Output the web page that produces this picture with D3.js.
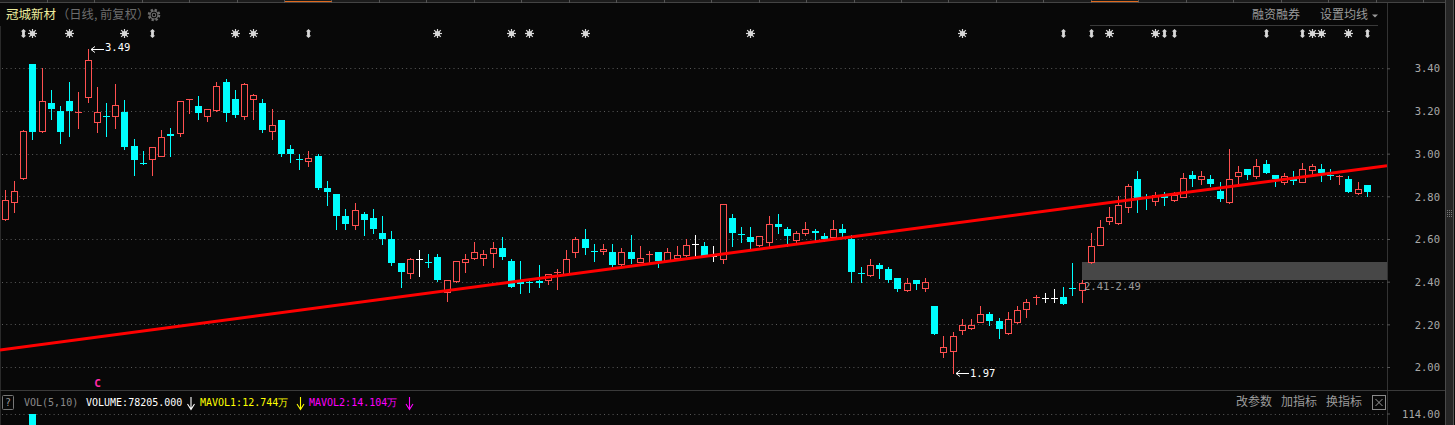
<!DOCTYPE html>
<html><head><meta charset="utf-8">
<script src="https://cdn.jsdelivr.net/npm/d3@7"></script>
<style>body{margin:0;background:#080808;overflow:hidden}svg{display:block}</style>
</head><body><svg id="c" width="1455" height="425"></svg>
<script>
// ---------- data ----------
const opens = [2.694,2.774,2.886,3.419,3.106,3.239,3.199,3.249,3.188,3.267,
 3.150,3.178,3.178,3.197,3.038,2.958,2.975,2.991,3.090,3.097,
 3.254,3.222,3.177,3.205,3.338,3.258,3.178,3.258,3.239,3.106,
 3.160,3.021,2.977,2.966,2.988,2.838,2.810,2.707,2.666,2.716,
 2.697,2.627,2.599,2.487,2.441,2.504,2.497,2.515,2.351,2.404,
 2.493,2.511,2.511,2.535,2.557,2.496,2.407,2.405,2.401,2.407,
 2.441,2.435,2.537,2.598,2.548,2.544,2.538,2.483,2.538,2.493,
 2.527,2.538,2.495,2.511,2.527,2.576,2.566,2.520,2.504,2.697,
 2.626,2.608,2.572,2.584,2.669,2.645,2.596,2.626,2.637,2.616,
 2.607,2.646,2.600,2.443,2.432,2.477,2.459,2.416,2.360,2.407,
 2.371,2.285,2.071,2.073,2.174,2.184,2.212,2.248,2.215,2.160,
 2.212,2.273,2.324,2.325,2.325,2.327,2.373,2.362,2.493,2.572,
 2.685,2.675,2.748,2.880,2.799,2.776,2.808,2.783,2.799,2.899,
 2.879,2.879,2.827,2.774,2.897,2.926,2.897,2.950,2.899,2.865,
 2.888,2.869,2.924,2.926,2.902,2.888,2.879,2.816,2.855];
const highs = [2.829,2.871,3.110,3.420,3.400,3.300,3.222,3.338,3.291,3.490,
 3.311,3.239,3.328,3.250,3.067,3.011,3.029,3.110,3.119,3.249,
 3.258,3.269,3.210,3.338,3.349,3.300,3.330,3.280,3.258,3.207,
 3.160,3.039,2.997,3.011,2.997,2.871,2.810,2.740,2.768,2.726,
 2.740,2.707,2.637,2.487,2.513,2.548,2.529,2.529,2.407,2.495,
 2.529,2.585,2.548,2.585,2.608,2.505,2.496,2.410,2.477,2.434,
 2.459,2.548,2.607,2.646,2.576,2.576,2.575,2.557,2.618,2.566,
 2.546,2.538,2.557,2.566,2.598,2.618,2.585,2.566,2.766,2.716,
 2.655,2.655,2.616,2.707,2.716,2.655,2.637,2.679,2.646,2.627,
 2.688,2.669,2.619,2.469,2.505,2.487,2.468,2.416,2.415,2.407,
 2.415,2.285,2.145,2.162,2.224,2.224,2.285,2.257,2.232,2.257,
 2.285,2.318,2.337,2.346,2.365,2.374,2.487,2.406,2.626,2.688,
 2.749,2.800,2.857,2.918,2.810,2.818,2.818,2.818,2.908,2.918,
 2.918,2.899,2.869,3.021,2.941,2.926,2.977,2.969,2.899,2.907,
 2.918,2.958,2.950,2.950,2.926,2.900,2.897,2.869,2.855];
const lows = [2.689,2.726,2.881,3.069,3.100,3.161,3.050,3.083,3.120,3.242,
 3.102,3.083,3.120,3.022,2.900,2.952,2.900,2.988,2.988,3.081,
 3.189,3.161,3.153,3.202,3.153,3.172,3.163,3.163,3.102,3.069,
 2.988,2.961,2.928,2.941,2.832,2.760,2.646,2.647,2.647,2.618,
 2.629,2.577,2.477,2.376,2.418,2.427,2.469,2.405,2.309,2.400,
 2.446,2.507,2.477,2.469,2.507,2.376,2.349,2.350,2.376,2.388,
 2.366,2.430,2.516,2.530,2.496,2.530,2.466,2.479,2.488,2.490,
 2.487,2.469,2.495,2.501,2.520,2.516,2.520,2.496,2.488,2.568,
 2.586,2.557,2.569,2.569,2.629,2.568,2.585,2.620,2.596,2.590,
 2.607,2.608,2.399,2.399,2.427,2.418,2.399,2.355,2.355,2.365,
 2.357,2.154,2.048,1.970,2.156,2.179,2.210,2.198,2.137,2.156,
 2.207,2.235,2.296,2.304,2.305,2.296,2.338,2.305,2.487,2.570,
 2.671,2.671,2.727,2.727,2.741,2.760,2.760,2.780,2.795,2.849,
 2.860,2.849,2.778,2.771,2.860,2.881,2.885,2.910,2.849,2.860,
 2.860,2.866,2.897,2.872,2.881,2.860,2.820,2.811,2.802];
const closes = [2.785,2.827,3.108,3.102,3.249,3.208,3.102,3.199,3.197,3.441,
 3.197,3.175,3.230,3.031,2.970,2.955,3.029,3.080,3.082,3.249,
 3.258,3.189,3.207,3.319,3.191,3.181,3.328,3.277,3.111,3.136,
 2.999,2.999,2.973,2.978,2.839,2.821,2.708,2.671,2.738,2.688,
 2.646,2.599,2.487,2.446,2.504,2.504,2.492,2.408,2.407,2.495,
 2.505,2.537,2.529,2.557,2.516,2.376,2.388,2.398,2.392,2.434,
 2.445,2.504,2.598,2.558,2.544,2.555,2.479,2.537,2.505,2.513,
 2.531,2.497,2.537,2.527,2.574,2.576,2.521,2.520,2.766,2.629,
 2.623,2.585,2.616,2.668,2.655,2.612,2.626,2.645,2.629,2.599,
 2.646,2.627,2.446,2.439,2.476,2.460,2.407,2.365,2.396,2.388,
 2.398,2.154,2.092,2.143,2.195,2.195,2.248,2.216,2.177,2.223,
 2.265,2.303,2.328,2.325,2.325,2.296,2.369,2.396,2.566,2.655,
 2.705,2.758,2.847,2.791,2.795,2.808,2.790,2.804,2.888,2.881,
 2.897,2.858,2.788,2.879,2.916,2.900,2.940,2.910,2.880,2.897,
 2.874,2.926,2.941,2.910,2.894,2.897,2.821,2.835,2.821];

const priceTicks = [2.00,2.20,2.40,2.60,2.80,3.00,3.20,3.40];
const volTicks = [114.00];
const volIdx = [3];
const volVals = [114];

const signalIdx  = [2,3,7,13,16,25,27,33,47,55,57,63,81,104,115,118,120,125,126,127,137,141,142,143,146,148];
const signalType = ["B","S","S","S","B","S","S","B","S","S","S","S","S","S","B","B","S","S","B","B","B","B","S","S","S","B"];

const trendIdx = [-0.58, 150.14];
const trendPrice = [2.080, 2.943];

const gapZone = [2.41, 2.49];
const gapStartIdx = 117;
const gapLabel = "2.41-2.49";

const highMarkIdx = 9, highMarkVal = 3.49;
const lowMarkIdx = 103, lowMarkVal = 1.97;
const cMarkIdx = 10;

// ---------- layout ----------
const W = 1455, H = 425, PR = 1387;
const MONO = "'DejaVu Sans Mono', 'Liberation Mono', monospace";
const CJK = "'Noto Sans CJK SC', 'Noto Sans', sans-serif";
const RED = "#ff5050", CYAN = "#00ffff", WHITE = "#ffffff";

const svg = d3.select("#c");
svg.append("rect").attr("width", W).attr("height", H).attr("fill", "#080808");

const x = d3.scaleLinear().domain([0, 148]).range([5.3, 1367.3]);
const y = d3.scaleLinear().domain([2.0, 3.4]).range([367, 68.3]);
const yv = d3.scaleLinear().domain([0, 114]).range([560, 413.5]);

const defs = svg.append("defs");
defs.append("clipPath").attr("id", "plot").append("rect")
  .attr("x", 0).attr("y", 26).attr("width", PR).attr("height", 364);
defs.append("clipPath").attr("id", "vplot").append("rect")
  .attr("x", 0).attr("y", 392).attr("width", PR).attr("height", 40);

// top tab strip
svg.append("rect").attr("x", 0).attr("y", 0).attr("width", 1445).attr("height", 2).attr("fill", "#1c1c1c");
svg.append("line").attr("x1", 0).attr("x2", 1445).attr("y1", 2.5).attr("y2", 2.5).attr("stroke", "#444");
d3.range(30).forEach(k => {
  const xx = Math.round(46.7 + k * 47.46) + 0.5;
  svg.append("line").attr("x1", xx).attr("x2", xx).attr("y1", 0).attr("y2", 3).attr("stroke", "#555");
});
[[285, 331.7], [1091, 1138.3]].forEach(([a, b]) => {
  svg.append("line").attr("x1", a).attr("x2", b).attr("y1", 1.5).attr("y2", 1.5).attr("stroke", "#e06a1e").attr("stroke-width", 1.2);
});

// title
svg.append("text").attr("x", 6).attr("y", 15.5).attr("dominant-baseline", "middle")
  .attr("font-family", CJK).attr("font-size", 12.5).attr("fill", "#ecec9c").text("冠城新材");
svg.append("text").attr("x", 57).attr("y", 15.5).attr("dominant-baseline", "middle")
  .attr("font-family", CJK).attr("font-size", 12.3).attr("fill", "#6c6c6c").text("（日线, 前复权）");
const gear = svg.append("g").attr("transform", "translate(154,15)");
gear.append("circle").attr("r", 5).attr("fill", "none").attr("stroke", "#6c6c6c").attr("stroke-width", 2.6).attr("stroke-dasharray", "2.2,1.73");
gear.append("circle").attr("r", 4).attr("fill", "none").attr("stroke", "#6c6c6c").attr("stroke-width", 1.2);
gear.append("circle").attr("r", 1.8).attr("fill", "none").attr("stroke", "#6c6c6c").attr("stroke-width", 1.1);

svg.append("text").attr("x", 1252).attr("y", 15.5).attr("dominant-baseline", "middle")
  .attr("font-family", CJK).attr("font-size", 12).attr("fill", "#9a9a9a").text("融资融券");
svg.append("text").attr("x", 1320).attr("y", 15.5).attr("dominant-baseline", "middle")
  .attr("font-family", CJK).attr("font-size", 12).attr("fill", "#9a9a9a").text("设置均线");
svg.append("path").attr("d", "M1372,14.5 L1378,14.5 L1375,17.5 Z").attr("fill", "#9a9a9a");
svg.append("line").attr("x1", 1090).attr("x2", 1378).attr("y1", 25.5).attr("y2", 25.5).attr("stroke", "#3a3a3a");

// frame lines
svg.append("line").attr("x1", PR + 0.5).attr("x2", PR + 0.5).attr("y1", 3).attr("y2", H).attr("stroke", "#333");
svg.append("line").attr("x1", 0.5).attr("x2", 0.5).attr("y1", 26).attr("y2", H).attr("stroke", "#2a2a2a");
svg.append("line").attr("x1", 0).attr("x2", 1445).attr("y1", 390.5).attr("y2", 390.5).attr("stroke", "#3a3a3a");
svg.append("rect").attr("x", 1445).attr("y", 0).attr("width", 8).attr("height", H).attr("fill", "#262626");
svg.append("line").attr("x1", 1445.5).attr("x2", 1445.5).attr("y1", 0).attr("y2", H).attr("stroke", "#4a4a4a");
svg.append("line").attr("x1", 1453.5).attr("x2", 1453.5).attr("y1", 0).attr("y2", H).attr("stroke", "#555");
[-3, -1, 1, 3].forEach(dy => {
  svg.append("line").attr("x1", 1447).attr("x2", 1452).attr("y1", 213.5 + dy).attr("y2", 213.5 + dy)
    .attr("stroke", "#777").attr("stroke-dasharray", "1,1");
});

// grid
svg.append("g").selectAll("line").data(priceTicks).join("line")
  .attr("x1", 2).attr("x2", PR - 2)
  .attr("y1", d => Math.round(y(d)) + 0.5).attr("y2", d => Math.round(y(d)) + 0.5)
  .attr("stroke", "#5a5a5a").attr("stroke-dasharray", "1,3.3");
svg.append("g").selectAll("line").data(volTicks).join("line")
  .attr("x1", 2).attr("x2", PR - 2)
  .attr("y1", d => Math.round(yv(d)) + 0.5).attr("y2", d => Math.round(yv(d)) + 0.5)
  .attr("stroke", "#5a5a5a").attr("stroke-dasharray", "1,3.3");

// axes
function styleAxis(g) {
  g.select(".domain").remove();
  g.selectAll(".tick line").attr("stroke", "#555");
  g.selectAll(".tick text").attr("fill", "#a8a8a8").attr("font-family", MONO).attr("font-size", 10.5)
    .attr("text-anchor", "end").attr("x", 53).attr("dy", "0.35em");
}
svg.append("g").attr("transform", `translate(${PR},0)`)
  .call(d3.axisRight(y).tickValues(priceTicks).tickFormat(d3.format(".2f")).tickSize(3))
  .call(styleAxis);
svg.append("g").attr("transform", `translate(${PR},0)`)
  .call(d3.axisRight(yv).tickValues(volTicks).tickFormat(d3.format(".2f")).tickSize(3))
  .call(styleAxis);

// main plot
const plot = svg.append("g").attr("clip-path", "url(#plot)");

// gap zone
plot.append("rect")
  .attr("x", Math.floor(x(gapStartIdx)))
  .attr("y", Math.round(y(gapZone[1])))
  .attr("width", PR - Math.floor(x(gapStartIdx)))
  .attr("height", Math.round(y(gapZone[0])) - Math.round(y(gapZone[1])))
  .attr("fill", "#474747");

// candles
const data = opens.map((o, i) => ({ i, o, h: highs[i], l: lows[i], c: closes[i] }));
const cg = plot.append("g");
data.forEach(d => {
  const cx = Math.floor(x(d.i)) + 0.5;
  const yo = y(d.o), yc = y(d.c), yh = Math.round(y(d.h)), yl = Math.round(y(d.l));
  const top = Math.min(yo, yc), bot = Math.max(yo, yc);
  if (d.c > d.o && bot - top >= 2) {
    const t = Math.round(top) + 0.5, b = Math.round(bot) + 0.5;
    if (yh < t) cg.append("line").attr("x1", cx).attr("x2", cx).attr("y1", yh).attr("y2", t).attr("stroke", RED);
    if (yl > b) cg.append("line").attr("x1", cx).attr("x2", cx).attr("y1", b).attr("y2", yl + 1).attr("stroke", RED);
    cg.append("rect").attr("x", cx - 3).attr("y", t).attr("width", 6).attr("height", b - t)
      .attr("fill", "#080808").attr("stroke", RED).attr("stroke-width", 1);
  } else if (d.c < d.o && bot - top >= 1.5) {
    cg.append("line").attr("x1", cx).attr("x2", cx).attr("y1", yh).attr("y2", yl + 1).attr("stroke", CYAN);
    const t = Math.round(top), b = Math.round(bot);
    cg.append("rect").attr("x", cx - 3.5).attr("y", t).attr("width", 7).attr("height", Math.max(1, b - t))
      .attr("fill", CYAN);
  } else {
    const col = d.c > d.o ? RED : (d.c < d.o ? CYAN : WHITE);
    const yy = Math.round(yc) + 0.5;
    cg.append("line").attr("x1", cx).attr("x2", cx).attr("y1", yh).attr("y2", yl + 1).attr("stroke", col);
    cg.append("line").attr("x1", cx - 3.5).attr("x2", cx + 3.5).attr("y1", yy).attr("y2", yy).attr("stroke", col);
  }
});

// trend line
plot.append("line")
  .attr("x1", x(trendIdx[0])).attr("y1", y(trendPrice[0]))
  .attr("x2", x(trendIdx[1])).attr("y2", y(trendPrice[1]))
  .attr("stroke", "#ff0000").attr("stroke-width", 3);

// gap label
plot.append("text").attr("x", Math.floor(x(gapStartIdx)) + 2).attr("y", y(gapZone[0]) + 7.5)
  .attr("dominant-baseline", "middle").attr("font-family", MONO).attr("font-size", 10.5)
  .attr("fill", "#9a9a9a").text(gapLabel);

// high / low markers
function marker(idx, val, dyText) {
  const tip = Math.floor(x(idx)) + 3;
  const yy = Math.round(y(val)) + 0.5;
  plot.append("path").attr("d", `M${tip},${yy} L${tip + 13},${yy} M${tip + 4},${yy - 3} L${tip},${yy} L${tip + 4},${yy + 3}`)
    .attr("stroke", WHITE).attr("fill", "none");
  plot.append("text").attr("x", tip + 14).attr("y", yy + dyText).attr("dominant-baseline", "middle")
    .attr("font-family", MONO).attr("font-size", 10.5).attr("fill", WHITE).text(d3.format(".2f")(val));
}
marker(highMarkIdx, highMarkVal, -1.5);
marker(lowMarkIdx, lowMarkVal, 0.5);

// signal marks
const sg = svg.append("g");
signalIdx.forEach((idx, k) => {
  const cx = Math.floor(x(idx)) + 0.5, cy = 33.5;
  const g = sg.append("g").attr("transform", `translate(${cx},${cy})`);
  if (signalType[k] === "S") {
    g.append("circle").attr("r", 2.6).attr("fill", "#d8d8d8");
    [[-4.5, 0, 4.5, 0], [0, -4.5, 0, 4.5], [-3.3, -3.3, 3.3, 3.3], [-3.3, 3.3, 3.3, -3.3]].forEach(s =>
      g.append("line").attr("x1", s[0]).attr("y1", s[1]).attr("x2", s[2]).attr("y2", s[3])
        .attr("stroke", "#d8d8d8").attr("stroke-width", 1.2));
  } else {
    g.append("path").attr("d", "M0,-4.5 L2.7,-2 L1.4,-2 L1.4,2 L2.7,2 L0,4.5 L-2.7,2 L-1.4,2 L-1.4,-2 L-2.7,-2 Z")
      .attr("fill", "#d8d8d8");
  }
});

// C mark
svg.append("text").attr("x", Math.floor(x(cMarkIdx)) + 0.5).attr("y", 383.5).attr("text-anchor", "middle")
  .attr("dominant-baseline", "middle").attr("font-family", MONO).attr("font-size", 11).attr("font-weight", "bold")
  .attr("fill", "#ff2aa8").text("C");

// volume panel
const vplot = svg.append("g").attr("clip-path", "url(#vplot)");
vplot.selectAll("rect").data(volIdx).join("rect")
  .attr("x", d => Math.floor(x(d)) - 3)
  .attr("y", (d, k) => Math.round(yv(volVals[k])))
  .attr("width", 7)
  .attr("height", (d, k) => yv(0) - Math.round(yv(volVals[k])))
  .attr("fill", CYAN);

svg.append("rect").attr("x", 2.5).attr("y", 395.5).attr("width", 11).attr("height", 14).attr("rx", 1)
  .attr("fill", "none").attr("stroke", "#777");
svg.append("text").attr("x", 8).attr("y", 403).attr("text-anchor", "middle").attr("dominant-baseline", "middle")
  .attr("font-family", MONO).attr("font-size", 10).attr("fill", "#999").text("?");

const legend = [
  { t: "VOL(5,10)", x: 24, c: "#8a8a8a" },
  { t: "VOLUME:78205.000", x: 86, c: "#ffffff" },
  { t: "MAVOL1:12.744万", x: 200, c: "#ffff00" },
  { t: "MAVOL2:14.104万", x: 309, c: "#ff00ff" }
];
legend.forEach(l => {
  svg.append("text").attr("x", l.x).attr("y", 402.5).attr("dominant-baseline", "middle")
    .attr("font-family", MONO).attr("font-size", 10).attr("fill", l.c).text(l.t);
});
[[191, "#ffffff"], [300.5, "#ffff00"], [409.5, "#ff00ff"]].forEach(([ax, c]) => {
  svg.append("path").attr("d", `M${ax},397 L${ax},409 M${ax - 3.5},404 L${ax},409.5 L${ax + 3.5},404`)
    .attr("stroke", c).attr("fill", "none").attr("stroke-width", 1.1);
});

[["改参数", 1236], ["加指标", 1281], ["换指标", 1326]].forEach(([t, xx]) => {
  svg.append("text").attr("x", xx).attr("y", 402.5).attr("dominant-baseline", "middle")
    .attr("font-family", CJK).attr("font-size", 12).attr("fill", "#9a9a9a").text(t);
});
svg.append("rect").attr("x", 1372.5).attr("y", 395.5).attr("width", 13).attr("height", 14)
  .attr("fill", "none").attr("stroke", "#8a8a8a");
svg.append("path").attr("d", "M1375.5,399 L1382.5,406 M1382.5,399 L1375.5,406").attr("stroke", "#9a9a9a");
</script>
</body></html>
